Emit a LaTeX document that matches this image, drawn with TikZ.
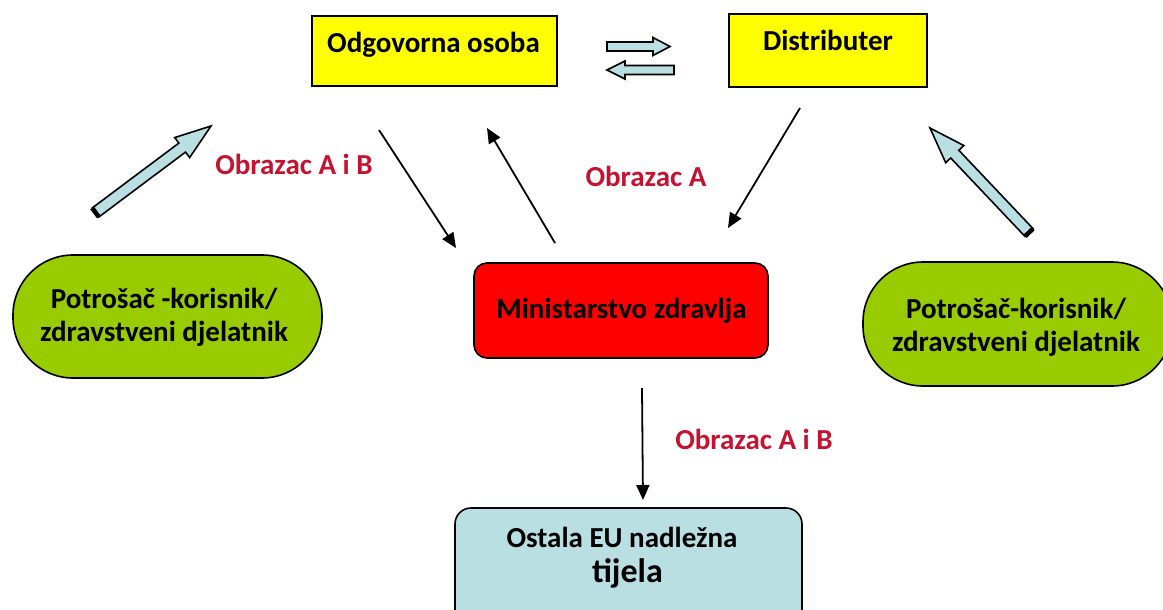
\documentclass[tikz,border=0pt]{standalone}
\usepackage{fontspec}
\setmainfont{Carlito}
\usetikzlibrary{arrows.meta,calc}
\definecolor{ylw}{RGB}{255,255,0}
\definecolor{rd}{RGB}{255,0,0}
\definecolor{grn}{RGB}{153,204,0}
\definecolor{pblue}{RGB}{185,223,227}
\definecolor{lblred}{RGB}{196,18,48}
\newcommand\fatarrow[5]{%
  \draw[fill=pblue,line width=1.6pt,line join=miter]
    ($(#1)!#3!90:(#2)$) --
    ($($(#2)!#5!(#1)$)!#3!90:(#2)$) --
    ($($(#2)!#5!(#1)$)!#4!90:(#2)$) --
    (#2) --
    ($($(#2)!#5!(#1)$)!#4!-90:(#2)$) --
    ($($(#2)!#5!(#1)$)!#3!-90:(#2)$) --
    ($(#1)!#3!-90:(#2)$) -- cycle;}
\begin{document}
\begin{tikzpicture}[x=1pt,y=-1pt,
  txt/.style={font=\fontsize{29}{33}\selectfont\bfseries, inner sep=0pt, anchor=base, align=center},
  lbl/.style={txt, text=lblred},
  ybox/.style={draw, line width=1.6pt, fill=ylw, inner sep=0pt},
  rbox/.style={draw, line width=1.6pt, fill=rd, rounded corners=13pt, inner sep=0pt},
  pill/.style={draw, line width=1.6pt, fill=grn, rounded corners=60pt, inner sep=0pt},
  bbox/.style={draw, line width=1.6pt, fill=pblue, rounded corners=16pt, inner sep=0pt},
  conn/.style={line width=1.8pt, -{Triangle[length=15pt,width=13pt]}}]
\useasboundingbox (0,0) rectangle (1163,610);
\clip (0,0) rectangle (1163,610);
\fill[white] (0,0) rectangle (1163,610);

% boxes
\node[ybox, minimum width=245pt, minimum height=70pt] (oo) at (434.5,51) {};
\node[txt] (oot) at (433.5,53) {Odgovorna osoba};
\node[ybox, minimum width=198pt, minimum height=73pt] (dist) at (828,50.5) {};
\node[txt] (distt) at (828,51) {Distributer};
\node[rbox, minimum width=294pt, minimum height=95pt] (min) at (621,310.5) {};
\node[txt] (mint) at (621.5,318) {Ministarstvo zdravlja};
\node[pill, minimum width=309pt, minimum height=123pt] (pl) at (167.5,316.5) {};
\node[txt] (plt) at (164,341) {Potrošač -korisnik/\\zdravstveni djelatnik};
\node[pill, minimum width=309pt, minimum height=124pt] (pr) at (1017.5,324) {};
\node[txt] (prt) at (1016,351) {Potrošač-korisnik/\\zdravstveni djelatnik};
\node[bbox, minimum width=347pt, minimum height=124pt] (eu) at (628.5,570) {};
\node[txt] (eut1) at (622,547) {Ostala EU nadležna};
\node[txt, font=\fontsize{34}{36}\selectfont\bfseries] (eut2) at (627.5,582) {tijela};

% labels
\node[lbl] (l1) at (294,174) {Obrazac A i B};
\node[lbl] (l2) at (646,186) {Obrazac A};
\node[lbl] (l3) at (754,449) {Obrazac A i B};

% thin arrows
\coordinate (a1s) at (379,130); \coordinate (a1e) at (456,248);
\coordinate (a2s) at (555,243); \coordinate (a2e) at (487,128);
\coordinate (a3s) at (800,108); \coordinate (a3e) at (728,228);
\coordinate (a4s) at (642,388); \coordinate (a4e) at (643,500);
\draw[conn] (a1s) -- (a1e);
\draw[conn] (a2s) -- (a2e);
\draw[conn] (a3s) -- (a3e);
\draw[conn] (a4s) -- (a4e);

% block arrows
\coordinate (bl1) at (95.5,212.5); \coordinate (bl2) at (211,126);
\coordinate (br1) at (1029,232.5); \coordinate (br2) at (930,128);
\fatarrow{bl1}{bl2}{5.6pt}{12.5pt}{36pt}
\draw[line width=4.5pt] ($(bl1)!5.6pt!90:(bl2)$) -- ($(bl1)!5.6pt!-90:(bl2)$);
\fatarrow{br1}{br2}{5.6pt}{12.5pt}{36pt}
\draw[line width=4.5pt] ($(br1)!5.6pt!90:(br2)$) -- ($(br1)!5.6pt!-90:(br2)$);

% small exchange arrows
\coordinate (s1a) at (607,46.5); \coordinate (s1b) at (670,46.5);
\coordinate (s2a) at (674,70); \coordinate (s2b) at (607,70);
\fatarrow{s1a}{s1b}{4.5pt}{9pt}{17pt}
\fatarrow{s2a}{s2b}{4.5pt}{9pt}{18pt}
\end{tikzpicture}
\end{document}
